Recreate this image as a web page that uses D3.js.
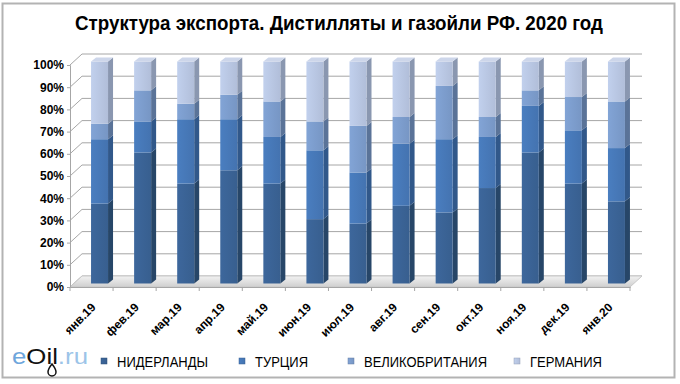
<!DOCTYPE html>
<html>
<head>
<meta charset="utf-8">
<script src="https://cdnjs.cloudflare.com/ajax/libs/d3/7.8.5/d3.min.js"></script>
<style>
  body { margin: 0; background: #fff; }
  text { font-family: "Liberation Sans", Arial, sans-serif; }
</style>
</head>
<body>
<div id="vis"></div>
<script>
// data, shares in %
const months = ["янв.19", "фев.19", "мар.19", "апр.19", "май.19", "июн.19", "июл.19",
                "авг.19", "сен.19", "окт.19", "ноя.19", "дек.19", "янв.20"];
const countries = ["НИДЕРЛАНДЫ", "ТУРЦИЯ", "ВЕЛИКОБРИТАНИЯ", "ГЕРМАНИЯ"];
const netherlands = [36, 59, 45, 51, 45, 29, 27, 35, 32, 43, 59, 45, 37];
const turkey      = [29, 14, 29, 23, 21, 31, 23, 28, 33, 23, 21, 24, 24];
const britain     = [7, 14, 7, 11, 16, 13, 21, 12, 24, 9, 7, 15, 21];
const germany     = [28, 13, 19, 15, 18, 27, 29, 25, 11, 25, 13, 16, 18];
const yTicks = [0, 10, 20, 30, 40, 50, 60, 70, 80, 90, 100];

const front = ["#3a6294", "#4677b6", "#7b9bcb", "#b7c5e1"];
const side  = ["#274668", "#31588a", "#5a7398", "#8a97b0"];

const width = 680, height = 384;
const svg = d3.select("#vis").append("svg")
  .attr("width", width).attr("height", height);

const defs = svg.append("defs");
front.forEach((c, i) => {
  const g = defs.append("linearGradient").attr("id", "gf" + i);
  g.append("stop").attr("offset", "0%").attr("stop-color", d3.color(c).brighter(0.15));
  g.append("stop").attr("offset", "100%").attr("stop-color", d3.color(c).darker(0.1));
});
const fg = defs.append("linearGradient").attr("id", "floor").attr("x1", 0).attr("y1", 0).attr("x2", 0).attr("y2", 1);
fg.append("stop").attr("offset", "0%").attr("stop-color", "#f2f2f2");
fg.append("stop").attr("offset", "100%").attr("stop-color", "#cfcfcf");

// outer frame
svg.append("rect").attr("x", 2.5).attr("y", 3.5).attr("width", 672).attr("height", 374)
  .attr("fill", "#fff").attr("stroke", "#b3b3b3").attr("stroke-width", 2);

svg.append("text")
  .attr("x", 75).attr("y", 30)
  .attr("font-size", 21).attr("font-weight", "bold").attr("fill", "#000")
  .attr("textLength", 528).attr("lengthAdjust", "spacingAndGlyphs")
  .text("Структура экспорта. Дистилляты и газойли РФ. 2020 год");

const x0 = 70, x1 = 630, dx = 12, dy = -11;
const x = d3.scaleBand().domain(months).range([x0, x1]);
const y = d3.scaleLinear().domain([0, 100]).range([287, 65]);

// back wall grid
const grid = svg.append("g").attr("stroke", "#a6a6a6").attr("fill", "none");
grid.selectAll("line.back").data(yTicks).join("line").attr("class", "back")
  .attr("x1", x0 + dx).attr("x2", x1 + dx)
  .attr("y1", d => y(d) + dy).attr("y2", d => y(d) + dy);
grid.selectAll("line.diag").data(yTicks).join("line").attr("class", "diag")
  .attr("x1", x0).attr("x2", x0 + dx)
  .attr("y1", d => y(d)).attr("y2", d => y(d) + dy);

// floor
svg.append("path")
  .attr("d", `M${x0},${y(0)}L${x1},${y(0)}L${x1 + dx},${y(0) + dy}L${x0 + dx},${y(0) + dy}Z`)
  .attr("fill", "url(#floor)").attr("stroke", "#c8c8c8");

// axes
const yAxis = d3.axisLeft(y).tickValues(yTicks).tickSize(3).tickFormat(d => d + "%");
const ya = svg.append("g").attr("transform", `translate(${x0},0)`).call(yAxis);
ya.select(".domain").attr("stroke", "#a6a6a6");
ya.selectAll(".tick line").attr("stroke", "#a6a6a6");
ya.selectAll("text").attr("font-size", 12).attr("font-weight", "bold").attr("fill", "#000")
  .attr("font-family", "Liberation Sans, Arial, sans-serif").attr("x", -6);

const xAxis = d3.axisBottom(x).tickSize(0).tickFormat(d => d);
const xa = svg.append("g").attr("transform", `translate(0,${y(0)})`).call(xAxis);
xa.select(".domain").attr("stroke", "#a6a6a6");
xa.selectAll(".tick text")
  .attr("font-size", 12).attr("font-weight", "bold").attr("fill", "#000")
  .attr("font-family", "Liberation Sans, Arial, sans-serif")
  .attr("text-anchor", "end").attr("dy", 0).attr("y", 0)
  .attr("transform", "translate(5,21) rotate(-45)");
xa.selectAll(".bound").data(d3.range(months.length + 1)).join("line").attr("class", "bound")
  .attr("x1", i => x0 + i * x.step()).attr("x2", i => x0 + i * x.step())
  .attr("y1", 0).attr("y2", 4).attr("stroke", "#a6a6a6");

// stacked 3D bars
const table = months.map((m, i) => ({ m, a: netherlands[i], b: turkey[i], c: britain[i], d: germany[i] }));
const stack = d3.stack().keys(["a", "b", "c", "d"])(table);
const ox = 4, oy = -3.5, bw = 17, bx = 5, by = -4;

const bars = svg.append("g");
stack.forEach((layer, k) => {
  const g = bars.append("g");
  layer.forEach(s => {
    const left = x(s.data.m) + x.bandwidth() / 2 - 4.5 + ox;
    const top = y(s[1]) + oy, bot = y(s[0]) + oy;
    g.append("path")
      .attr("d", `M${left + bw},${bot}L${left + bw + bx},${bot + by}L${left + bw + bx},${top + by}L${left + bw},${top}Z`)
      .attr("fill", side[k]);
    g.append("rect").attr("x", left).attr("y", top).attr("width", bw).attr("height", bot - top)
      .attr("fill", `url(#gf${k})`);
    if (k === stack.length - 1) {
      g.append("path")
        .attr("d", `M${left},${top}L${left + bx},${top + by}L${left + bw + bx},${top + by}L${left + bw},${top}Z`)
        .attr("fill", "#cdd6ea");
    }
  });
});

// legend
const legX = [104, 242, 351, 517];
const legW = [91, 53, 123, 72];
const leg = svg.append("g");
countries.forEach((c, i) => {
  leg.append("rect").attr("x", legX[i] - 3).attr("y", 358).attr("width", 6).attr("height", 6)
    .attr("fill", `url(#gf${i})`).attr("stroke", d3.color(front[i]).darker(0.6)).attr("stroke-width", 0.5);
  leg.append("text")
    .attr("x", legX[i] + 13).attr("y", 367)
    .attr("font-size", 15).attr("fill", "#000")
    .attr("textLength", legW[i]).attr("lengthAdjust", "spacingAndGlyphs")
    .text(c);
});

// logo
const logo = svg.append("text").attr("x", 12).attr("y", 364)
  .attr("font-size", 22).attr("font-family", "DejaVu Sans, sans-serif")
  .attr("textLength", 76).attr("lengthAdjust", "spacingAndGlyphs");
logo.append("tspan").attr("fill", "#6ea6dc").text("e");
logo.append("tspan").attr("fill", "#111").text("Oil");
logo.append("tspan").attr("fill", "#9cc4e8").text(".ru");
svg.append("path")
  .attr("d", "M52,364 q-4,5 -4,8 a4,4 0 0 0 8,0 q0,-3 -4,-8Z")
  .attr("fill", "#fff").attr("stroke", "#111").attr("stroke-width", 1.5);
</script>
</body>
</html>
